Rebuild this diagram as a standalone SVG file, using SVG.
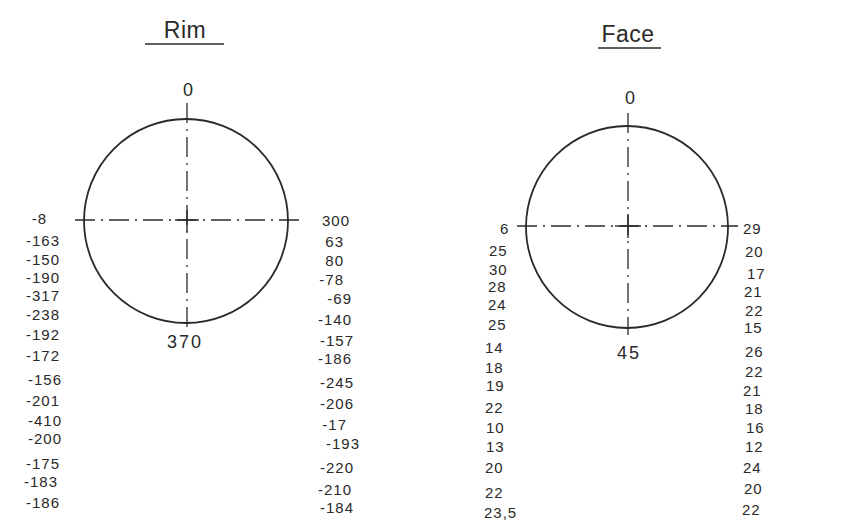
<svg xmlns="http://www.w3.org/2000/svg" width="844" height="523" viewBox="0 0 844 523">
<style>
.t{font-family:"Liberation Sans","DejaVu Sans",sans-serif;font-size:15px;fill:#2a2a2a;letter-spacing:1px}
.c{font-size:18px;letter-spacing:2px}
.title{font-size:23px;letter-spacing:0.5px}
.circ{fill:none;stroke:#2a2a2a;stroke-width:1.8}
.axis{stroke:#2a2a2a;stroke-width:1.3;stroke-dasharray:20 6 2 6;fill:none}
.cross{stroke:#2a2a2a;stroke-width:1.4}
.ul{stroke:#2a2a2a;stroke-width:1.4}
</style>
<rect width="844" height="523" fill="#ffffff"/>
<g id="rim">
<text class="t title" x="185" y="38" text-anchor="middle">Rim</text>
<line class="ul" x1="145" y1="44" x2="224" y2="44"/>
<circle class="circ" cx="186" cy="221" r="102"/>
<line class="axis" x1="75" y1="220" x2="300" y2="220"/>
<line class="axis" x1="187" y1="103" x2="187" y2="330"/>
<line class="cross" x1="175" y1="220" x2="199" y2="220"/>
<line class="cross" x1="187" y1="210" x2="187" y2="232"/>
<text class="t c" x="189" y="96" text-anchor="middle">0</text>
<text class="t c" x="185" y="348" text-anchor="middle">370</text>
<g text-anchor="end">
<text class="t" x="47" y="224">-8</text>
<text class="t" x="60" y="246">-163</text>
<text class="t" x="60" y="265">-150</text>
<text class="t" x="60" y="283">-190</text>
<text class="t" x="60" y="301">-317</text>
<text class="t" x="60" y="320">-238</text>
<text class="t" x="60" y="340">-192</text>
<text class="t" x="60" y="361">-172</text>
<text class="t" x="62" y="385">-156</text>
<text class="t" x="60" y="406">-201</text>
<text class="t" x="62" y="426">-410</text>
<text class="t" x="62" y="444">-200</text>
<text class="t" x="60" y="469">-175</text>
<text class="t" x="58" y="487">-183</text>
<text class="t" x="60" y="508">-186</text>
</g>
<g text-anchor="end">
<text class="t" x="350" y="226">300</text>
<text class="t" x="344" y="247">63</text>
<text class="t" x="344" y="266">80</text>
<text class="t" x="344" y="285">-78</text>
<text class="t" x="352" y="304">-69</text>
<text class="t" x="352" y="325">-140</text>
<text class="t" x="354" y="346">-157</text>
<text class="t" x="352" y="364">-186</text>
<text class="t" x="354" y="388">-245</text>
<text class="t" x="354" y="409">-206</text>
<text class="t" x="347" y="430">-17</text>
<text class="t" x="360" y="449">-193</text>
<text class="t" x="354" y="473">-220</text>
<text class="t" x="352" y="495">-210</text>
<text class="t" x="354" y="513">-184</text>
</g>
</g>
<g id="face">
<text class="t title" x="628" y="42" text-anchor="middle">Face</text>
<line class="ul" x1="598" y1="48" x2="661" y2="48"/>
<circle class="circ" cx="627" cy="227" r="101"/>
<line class="axis" x1="517" y1="226" x2="738" y2="226"/>
<line class="axis" x1="628" y1="113" x2="628" y2="335"/>
<line class="cross" x1="615" y1="226" x2="641" y2="226"/>
<line class="cross" x1="628" y1="214" x2="628" y2="238"/>
<text class="t c" x="631" y="104" text-anchor="middle">0</text>
<text class="t c" x="629" y="359" text-anchor="middle">45</text>
<g text-anchor="start">
<text class="t" x="500" y="234">6</text>
<text class="t" x="489" y="256">25</text>
<text class="t" x="489" y="275">30</text>
<text class="t" x="488" y="292">28</text>
<text class="t" x="488" y="310">24</text>
<text class="t" x="488" y="330">25</text>
<text class="t" x="485" y="353">14</text>
<text class="t" x="485" y="373">18</text>
<text class="t" x="486" y="391">19</text>
<text class="t" x="485" y="413">22</text>
<text class="t" x="486" y="433">10</text>
<text class="t" x="486" y="452">13</text>
<text class="t" x="485" y="473">20</text>
<text class="t" x="485" y="498">22</text>
<text class="t" x="484" y="518">23,5</text>
</g>
<g text-anchor="start">
<text class="t" x="743" y="234">29</text>
<text class="t" x="745" y="257">20</text>
<text class="t" x="747" y="279">17</text>
<text class="t" x="744" y="297">21</text>
<text class="t" x="745" y="316">22</text>
<text class="t" x="744" y="333">15</text>
<text class="t" x="745" y="357">26</text>
<text class="t" x="745" y="377">22</text>
<text class="t" x="743" y="396">21</text>
<text class="t" x="745" y="414">18</text>
<text class="t" x="746" y="433">16</text>
<text class="t" x="745" y="452">12</text>
<text class="t" x="743" y="473">24</text>
<text class="t" x="744" y="494">20</text>
<text class="t" x="742" y="515">22</text>
</g>
</g>
</svg>
